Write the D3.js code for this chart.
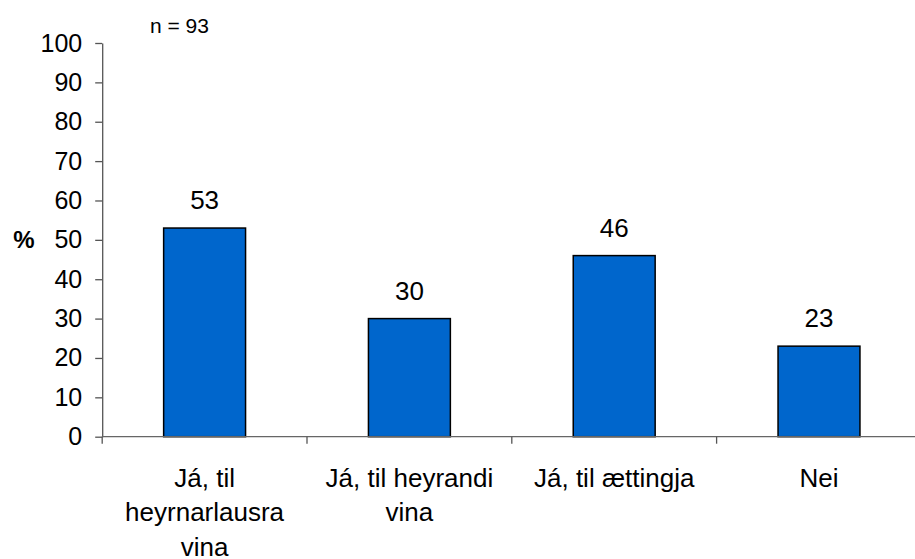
<!DOCTYPE html>
<html>
<head>
<meta charset="utf-8">
<script src="https://cdn.jsdelivr.net/npm/d3@7"></script>
<style>
  html, body { margin: 0; padding: 0; background: #fff; }
  svg { display: block; font-family: "Liberation Sans", Arial, sans-serif; }
</style>
</head>
<body>
<svg id="chart" width="915" height="559"></svg>
<script>
// Answers (percent of respondents)
const categories = ["Já, til heyrnarlausra vina", "Já, til heyrandi vina", "Já, til ættingja", "Nei"];
const labelLines = [["Já, til", "heyrnarlausra", "vina"], ["Já, til heyrandi", "vina"], ["Já, til ættingja"], ["Nei"]];
const values = [53, 30, 46, 23];
const yTicks = [0, 10, 20, 30, 40, 50, 60, 70, 80, 90, 100];
const sampleNote = "n = 93";
const yTitle = "%";

const svg = d3.select("#chart");

const x = d3.scaleBand().domain(categories).range([102.2, 921.4]).padding(0);
const y = d3.scaleLinear().domain([0, 100]).range([436.7, 43]);
const barW = x.bandwidth() * 0.4;

// bars
svg.append("g").selectAll("rect")
  .data(values)
  .join("rect")
  .attr("x", (d, i) => x(categories[i]) + (x.bandwidth() - barW) / 2)
  .attr("y", d => y(d))
  .attr("width", barW)
  .attr("height", d => y(0) - y(d))
  .attr("fill", "#0066CC")
  .attr("stroke", "#000")
  .attr("stroke-width", 1.5);

// value labels
svg.append("g").selectAll("text")
  .data(values)
  .join("text")
  .attr("x", (d, i) => x(categories[i]) + x.bandwidth() / 2)
  .attr("y", d => y(d) - 19)
  .attr("text-anchor", "middle")
  .attr("font-size", 26)
  .attr("fill", "#000")
  .text(d => d);

// y axis
const yAxis = svg.append("g")
  .attr("transform", `translate(${x.range()[0]},0)`)
  .call(d3.axisLeft(y).tickValues(yTicks).tickSize(7).tickPadding(13).tickSizeOuter(0));
yAxis.select(".domain").attr("stroke", "#555").attr("stroke-width", 1.3);
yAxis.selectAll(".tick line").attr("stroke", "#555").attr("stroke-width", 1.3);
yAxis.selectAll(".tick text")
  .attr("font-size", 25)
  .attr("font-family", "Liberation Sans, Arial, sans-serif")
  .attr("fill", "#000");

// x axis with ticks on band boundaries
const xg = svg.append("g").attr("transform", `translate(0,${y(0)})`);
xg.append("line")
  .attr("x1", x.range()[0]).attr("x2", x.range()[1])
  .attr("stroke", "#666").attr("stroke-width", 1.3);
const bounds = categories.map(c => x(c)).concat([x.range()[1]]);
xg.selectAll("line.tk")
  .data(bounds)
  .join("line")
  .attr("class", "tk")
  .attr("x1", d => d).attr("x2", d => d)
  .attr("y1", 0).attr("y2", 7)
  .attr("stroke", "#555").attr("stroke-width", 1.3);

// category labels
const lab = svg.append("g").selectAll("text")
  .data(categories)
  .join("text")
  .attr("x", c => x(c) + x.bandwidth() / 2)
  .attr("y", 486.5)
  .attr("text-anchor", "middle")
  .attr("font-size", 26)
  .attr("fill", "#000");
lab.each(function(c, i) {
  const t = d3.select(this);
  labelLines[i].forEach((ln, j) => {
    t.append("tspan")
      .attr("x", x(c) + x.bandwidth() / 2)
      .attr("dy", j === 0 ? 0 : 34.7)
      .text(ln);
  });
});

// y title
svg.append("text")
  .attr("x", 24).attr("y", 248)
  .attr("text-anchor", "middle")
  .attr("font-size", 24)
  .attr("font-weight", "bold")
  .attr("fill", "#000")
  .text(yTitle);

// sample size note
svg.append("text")
  .attr("x", 150).attr("y", 33)
  .attr("font-size", 21)
  .attr("fill", "#000")
  .text(sampleNote);
</script>
</body>
</html>
